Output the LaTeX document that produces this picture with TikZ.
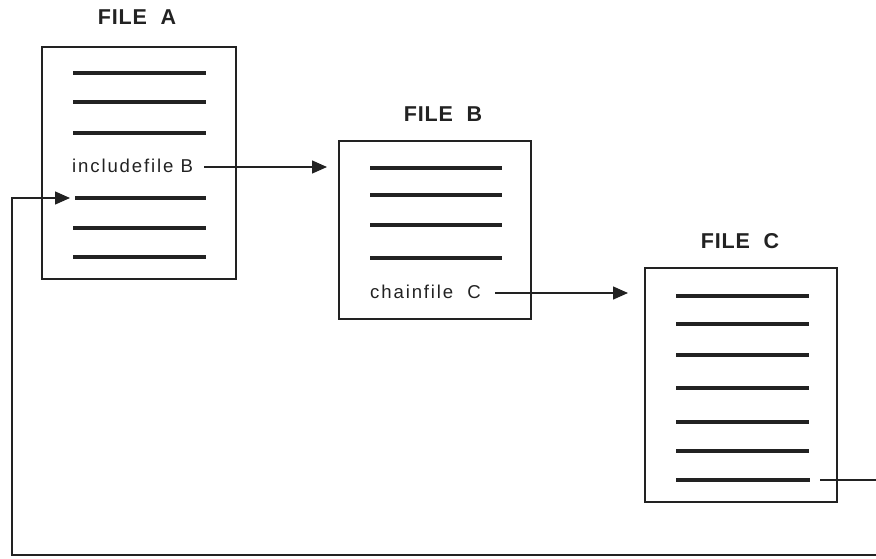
\documentclass[tikz,border=0pt]{standalone}
\usepackage{fontspec}
\setmainfont{Liberation Sans}
\newfontfamily\titlefont[LetterSpace=4]{Liberation Sans}
\newfontfamily\bodyfont[LetterSpace=10]{Liberation Sans}
\usetikzlibrary{arrows.meta}
\definecolor{ink}{HTML}{222222}
\begin{document}
\begin{tikzpicture}[x=1pt,y=-1pt,
  filebox/.style={draw=ink,line width=1.6pt,rectangle,inner sep=0pt,anchor=north west},
  textline/.style={draw=ink,line width=4.6pt},
  ftitle/.style={font=\titlefont\fontsize{21.5}{23}\selectfont\bfseries,text=ink,anchor=base,inner sep=0pt},
  ftext/.style={font=\bodyfont\fontsize{18.6}{20}\selectfont,text=ink,anchor=base west,inner sep=0pt},
  conn/.style={draw=ink,line width=1.4pt},
  arr/.style={conn,-{Triangle[length=15pt,width=13pt]}}]
\useasboundingbox (0,0) rectangle (876,558);
% boxes
\node[filebox,minimum width=194pt,minimum height=232pt] (A) at (41,46) {};
\node[filebox,minimum width=192pt,minimum height=178pt] (B) at (338,140) {};
\node[filebox,minimum width=192pt,minimum height=234pt] (C) at (644,267) {};
% titles
\node[ftitle] (tA) at (137,24) {FILE\ \ A};
\node[ftitle] (tB) at (443,121) {FILE\ \ B};
\node[ftitle] (tC) at (740,248) {FILE\ \ C};
% file A lines
\foreach \y in {73,102,133,228,257} \draw[textline] (73,\y) -- (206,\y);
\coordinate (a5s) at (75,198);
\draw[textline] (a5s) -- (206,198);
\node[ftext] (incB) at (72,172) {includefile B};
% file B lines
\foreach \y in {168,195,225,258} \draw[textline] (370,\y) -- (502,\y);
\node[ftext] (chC) at (370,298) {chainfile\ \ C};
% file C lines
\foreach \y in {296,324,355,388,422,451} \draw[textline] (676,\y) -- (809,\y);
\coordinate (c7e) at (810,480);
\draw[textline] (676,480) -- (c7e);
% connectors
\draw[arr,shorten <=11pt,shorten >=11pt] (incB.east |- 0,167) -- (B.west |- 0,167);
\draw[arr,shorten <=14pt,shorten >=16pt] (chC.east |- 0,293) -- (C.west |- 0,293);
\draw[arr,shorten <=10pt,shorten >=5pt] (c7e) -- (882,480) -- (882,555) -- (12,555) -- (12,198) -- (a5s);
\end{tikzpicture}
\end{document}
